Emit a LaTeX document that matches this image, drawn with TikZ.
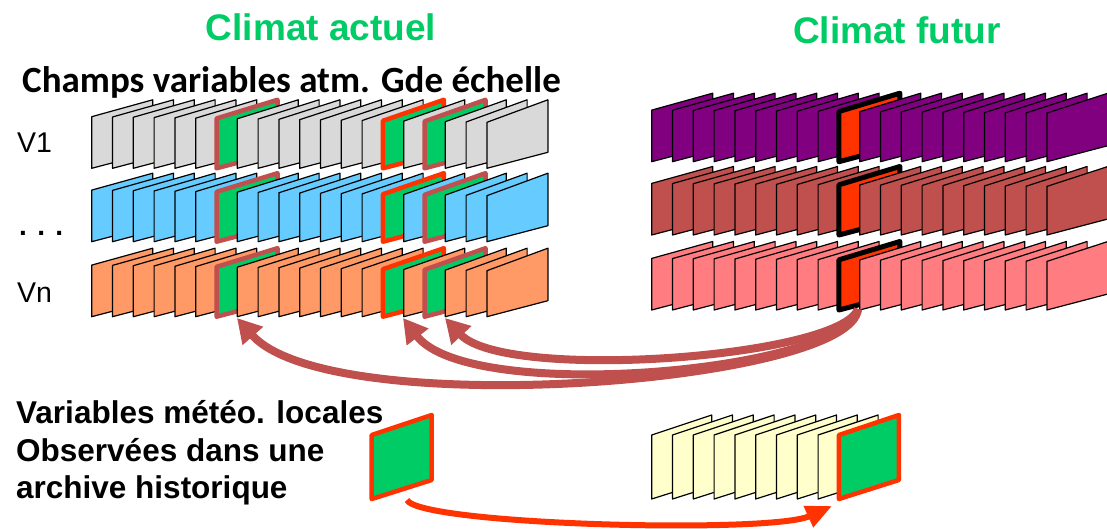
\documentclass[tikz,border=0pt]{standalone}
\usepackage{fontspec}
\setmainfont{Liberation Sans}
\newfontfamily\calif{Carlito}
\usetikzlibrary{arrows.meta}
\definecolor{cgray}{HTML}{D9D9D9}
\definecolor{cblue}{HTML}{66CCFF}
\definecolor{corange}{HTML}{FF9966}
\definecolor{cpurple}{HTML}{800080}
\definecolor{cbrown}{HTML}{C0504D}
\definecolor{cpink}{HTML}{FF7C80}
\definecolor{cyellow}{HTML}{FFFFCC}
\definecolor{cgreen}{HTML}{00CC66}
\definecolor{cred}{HTML}{FF3300}
\tikzset{
  card/.style={draw=black, line width=1.2pt, line join=round},
  hlbrown/.style={draw=cbrown, line width=4.5pt, fill=cgreen, line join=round},
  hlred/.style={draw=cred, line width=4.5pt, fill=cgreen, line join=round},
  hlblack/.style={draw=black, line width=5pt, fill=cred, line join=round},
  title/.style={text=cgreen, font=\bfseries\fontsize{37}{44}\selectfont, inner sep=0pt, anchor=base},
  lbl/.style={font=\fontsize{28.5}{34}\selectfont, inner sep=0pt, anchor=base west},
  btxt/.style={font=\bfseries\fontsize{31.5}{38}\selectfont, inner sep=0pt, anchor=base west},
  brarrow/.style={draw=cbrown, line width=8pt, -{Triangle[length=24pt,width=26pt]}},
  rdarrow/.style={draw=cred, line width=6pt, -{Triangle[length=26pt,width=22pt]}}
}
% top-row card: style, x, bottom-left y, left height
\newcommand\crd[4]{\draw[#1] (#2,#3) -- ++(61,-16) -- ++(0,-52.5) -- (#2,#3-#4) -- cycle;}
% bottom-row card: style, x
\newcommand\bcrd[2]{\draw[#1] (#2,499) -- ++(60,-19) -- ++(0,-65) -- ++(-60,20) -- cycle;}
\newcommand\leftrow[2]{%
  \foreach \i in {0,...,19}{%
    \pgfmathsetmacro\xx{91.7+20.8*\i}%
    \pgfmathsetmacro\hh{51.6-5.6*\i/19}%
    \ifnum\i=6 \crd{hlbrown}{\xx}{#1}{\hh}%
    \else\ifnum\i=14 \crd{hlred}{\xx}{#1}{\hh}%
    \else\ifnum\i=16 \crd{hlbrown}{\xx}{#1}{\hh}%
    \else \crd{card,fill=#2}{\xx}{#1}{\hh}\fi\fi\fi}}
\newcommand\rightrow[2]{%
  \foreach \i in {0,...,19}{%
    \pgfmathsetmacro\xx{651.7+20.8*\i}%
    \pgfmathsetmacro\hh{51.6-3*\i/19}%
    \ifnum\i=9 \crd{hlblack}{\xx}{#1}{\hh}%
    \else \crd{card,fill=#2}{\xx}{#1}{\hh}\fi}}
\begin{document}
\begin{tikzpicture}[x=1pt,y=-1pt]
\useasboundingbox (0,0) rectangle (1107,529);
\fill[white] (0,0) rectangle (1107,529);

% titles
\node[title] (ca) at (321,41) {Climat actuel};
\node[title] (cf) at (897,44) {Climat futur};
\node[inner sep=0pt, anchor=base west, font=\calif\bfseries\fontsize{37}{44}\selectfont] (ch) at (22,93) {Champs variables atm. Gde échelle};

% row labels
\node[lbl] (v1) at (17,153) {V1};
\node[lbl, font=\bfseries\fontsize{28}{34}\selectfont] (vd) at (19,236) {. . .};
\node[lbl] (vn) at (17,302) {Vn};

% current climate rows
\leftrow{168.3}{cgray}
\leftrow{241.7}{cblue}
\leftrow{316.7}{corange}

% future climate rows
\rightrow{161.7}{cpurple}
\rightrow{235}{cbrown}
\rightrow{310}{cpink}

% bottom: local variables
\node[btxt] (b1) at (16,423.3) {Variables météo. locales};
\node[btxt] (b2) at (16,461.7) {Observées dans une};
\node[btxt] (b3) at (16,498.3) {archive historique};
\bcrd{hlred}{371.7}
\foreach \i in {0,...,8}{\pgfmathsetmacro\xx{651.7+20.8*\i}\bcrd{card,fill=cyellow}{\xx}}
\bcrd{hlred}{838.9}

% connectors
\coordinate (src) at (858,309);
\coordinate (t1) at (237,318);
\coordinate (t2) at (403,318);
\coordinate (t3) at (445,318);
\coordinate (rs) at (407,500);
\coordinate (rt) at (832,506);
\draw[brarrow] (src) .. controls (852,383) and (330,423) .. (t1);
\draw[brarrow] (src) .. controls (845,372) and (470,405) .. (t2);
\draw[brarrow] (src) .. controls (840,358) and (505,382) .. (t3);
\draw[rdarrow] (rs) .. controls (420,525) and (770,534) .. (rt);
\end{tikzpicture}
\end{document}
